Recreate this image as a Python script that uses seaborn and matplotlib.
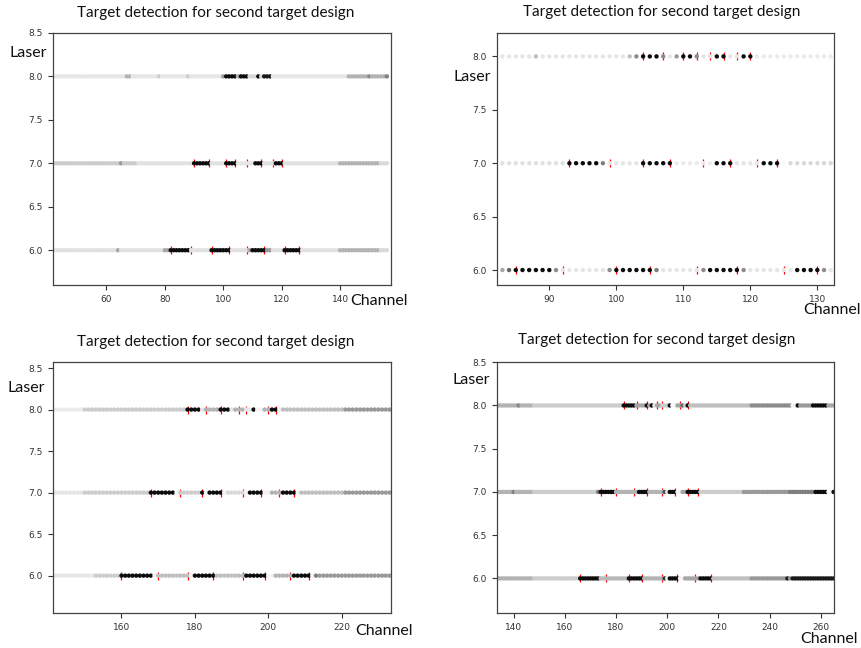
import numpy as np
import pandas as pd
import matplotlib
matplotlib.use("Agg")
import matplotlib.pyplot as plt
import seaborn as sns

# runs of (first channel, last channel, darkness 0..1) per laser row
p1_runs = {
    8: [(42, 66, 0.1), (67, 68, 0.3), (69, 77, 0.1), (78, 78, 0.2), (79, 87, 0.1), (88, 88, 0.2),
        (89, 99, 0.1), (100, 100, 0.4), (101, 104, 0.95), (105, 105, 0.3), (106, 108, 0.95),
        (109, 111, 0.15), (112, 112, 0.95), (113, 113, 0.15), (114, 116, 0.9), (117, 142, 0.1),
        (143, 149, 0.3), (150, 150, 0.45), (151, 155, 0.3), (156, 156, 0.5)],
    7: [(42, 64, 0.2), (65, 65, 0.4), (66, 70, 0.2), (71, 89, 0.12), (90, 95, 0.95), (96, 100, 0.12),
        (101, 104, 0.95), (105, 110, 0.1), (111, 113, 0.95), (114, 117, 0.12), (118, 120, 0.95),
        (121, 139, 0.12), (140, 153, 0.3), (154, 156, 0.15)],
    6: [(42, 63, 0.12), (64, 64, 0.35), (65, 79, 0.12), (80, 81, 0.35), (82, 88, 0.95), (89, 95, 0.12),
        (96, 102, 0.95), (103, 108, 0.12), (109, 109, 0.35), (110, 114, 0.95), (115, 116, 0.4),
        (117, 120, 0.12), (121, 126, 0.95), (127, 139, 0.12), (140, 153, 0.3), (154, 156, 0.15)],
}
p1_red = {8: [], 7: [90, 95, 101, 104, 108, 113, 117, 120], 6: [82, 89, 96, 102, 108, 114, 121, 126]}

p2_runs = {
    8: [(83, 87, 0.1), (88, 88, 0.25), (89, 101, 0.1), (102, 102, 0.25), (103, 103, 0.45),
        (104, 106, 0.95), (107, 107, 0.45), (108, 108, 0.1), (109, 109, 0.4), (110, 111, 0.95),
        (112, 112, 0.45), (113, 114, 0.1), (115, 116, 0.95), (117, 118, 0.1), (119, 120, 0.95),
        (121, 132, 0.08)],
    7: [(83, 92, 0.12), (93, 97, 0.95), (98, 98, 0.5), (99, 103, 0.1), (104, 108, 0.95),
        (109, 114, 0.08), (115, 117, 0.95), (118, 121, 0.1), (122, 124, 0.95), (125, 125, 0.03),
        (126, 132, 0.15)],
    6: [(83, 83, 0.35), (84, 84, 0.6), (85, 90, 0.95), (91, 91, 0.45), (92, 98, 0.1), (99, 99, 0.45),
        (100, 105, 0.95), (106, 106, 0.5), (107, 112, 0.1), (113, 113, 0.45), (114, 118, 0.95),
        (119, 119, 0.45), (120, 126, 0.1), (127, 130, 0.95), (131, 131, 0.45), (132, 132, 0.1)],
}
p2_red = {8: [104, 107, 110, 112, 114, 116, 118, 120], 7: [93, 99, 104, 108, 113, 117, 121, 124],
          6: [85, 92, 100, 105, 112, 118, 125, 130]}

p3_runs = {
    8: [(142, 149, 0.08), (150, 177, 0.2), (178, 181, 0.95), (182, 182, 0.1), (183, 186, 0.3),
        (187, 189, 0.95), (190, 190, 0.1), (191, 193, 0.3), (194, 195, 0.1), (196, 196, 0.95),
        (197, 198, 0.05), (199, 200, 0.3), (201, 202, 0.95), (203, 203, 0.05), (204, 220, 0.25),
        (221, 233, 0.4)],
    7: [(142, 149, 0.1), (150, 167, 0.2), (168, 174, 0.95), (175, 175, 0.05), (176, 181, 0.2),
        (182, 182, 0.95), (183, 183, 0.05), (184, 187, 0.95), (188, 188, 0.05), (189, 193, 0.15),
        (194, 194, 0.05), (195, 198, 0.95), (199, 200, 0.05), (201, 203, 0.3), (204, 207, 0.95),
        (208, 208, 0.05), (209, 220, 0.25), (221, 233, 0.4)],
    6: [(142, 152, 0.1), (153, 159, 0.2), (160, 168, 0.95), (169, 169, 0.05), (170, 178, 0.25),
        (179, 179, 0.05), (180, 185, 0.95), (186, 193, 0.25), (194, 199, 0.95), (200, 201, 0.05),
        (202, 206, 0.3), (207, 211, 0.95), (212, 212, 0.05), (213, 213, 0.5), (214, 233, 0.4)],
}
p3_red = {8: [178, 183, 187, 192, 194, 200, 202], 7: [168, 176, 182, 187, 193, 198, 203, 207],
          6: [160, 170, 178, 185, 193, 199, 206, 211]}

p4_runs = {
    8: [(134, 141, 0.3), (142, 142, 0.5), (143, 147, 0.3), (148, 182, 0.2), (183, 187, 0.95),
        (188, 191, 0.35), (192, 192, 0.95), (193, 193, 0.35), (194, 194, 0.95), (195, 195, 0.1),
        (196, 197, 0.35), (198, 200, 0.2), (201, 201, 0.95), (202, 203, 0.03), (204, 205, 0.35),
        (206, 206, 0.6), (207, 207, 0.2), (208, 208, 0.95), (209, 232, 0.25), (233, 248, 0.45),
        (249, 250, 0.05), (251, 251, 0.95), (252, 256, 0.4), (257, 262, 0.95), (263, 265, 0.35)],
    7: [(134, 139, 0.3), (140, 140, 0.5), (141, 147, 0.3), (148, 172, 0.2), (173, 173, 0.5),
        (174, 179, 0.95), (180, 188, 0.3), (189, 192, 0.95), (193, 198, 0.3), (199, 199, 0.7),
        (200, 200, 0.1), (201, 203, 0.95), (204, 205, 0.05), (206, 207, 0.35), (208, 212, 0.95),
        (213, 229, 0.2), (230, 247, 0.4), (248, 257, 0.5), (258, 262, 0.95), (263, 264, 0.03),
        (265, 265, 0.95)],
    6: [(134, 147, 0.3), (148, 165, 0.2), (166, 173, 0.95), (174, 184, 0.28), (185, 190, 0.95),
        (191, 198, 0.3), (199, 199, 0.8), (200, 200, 0.05), (201, 204, 0.95), (205, 206, 0.05),
        (207, 212, 0.35), (213, 217, 0.95), (218, 232, 0.25), (233, 246, 0.4), (247, 247, 0.9),
        (248, 248, 0.4), (249, 265, 0.9)],
}
p4_red = {8: [183, 188, 192, 196, 198, 205, 208], 7: [174, 180, 187, 192, 198, 203, 208, 212],
          6: [166, 176, 185, 190, 198, 204, 211, 217]}

title = "Target detection for second target design"

panels = [
    # runs, red, axes rect, xlim, ylim, xticks, yticks, title xy, laser xy, channel right-edge xy (pixels)
    (p1_runs, p1_red, [0.0615, 0.5602, 0.392, 0.389], (41.7, 157.4), (5.6, 8.5),
     [60, 80, 100, 120, 140], [6.0, 6.5, 7.0, 7.5, 8.0, 8.5], (216, 13), (10, 53), (408, 301)),
    (p2_runs, p2_red, [0.5766, 0.5602, 0.391, 0.389], (82.2, 132.5), (5.86, 8.22),
     [90, 100, 110, 120, 130], [6.0, 6.5, 7.0, 7.5, 8.0], (662, 12), (454, 77), (861, 310)),
    (p3_runs, p3_red, [0.0615, 0.054, 0.392, 0.387], (141.35, 233.4), (5.55, 8.57),
     [160, 180, 200, 220], [6.0, 6.5, 7.0, 7.5, 8.0, 8.5], (216, 342), (8, 388), (413, 631)),
    (p4_runs, p4_red, [0.5766, 0.054, 0.391, 0.387], (133.5, 265.2), (5.6, 8.5),
     [140, 160, 180, 200, 220, 240, 260], [6.0, 6.5, 7.0, 7.5, 8.0, 8.5], (657, 340), (453, 380), (858, 639)),
]

sns.set_style("ticks")
plt.rcParams["font.family"] = ["DejaVu Sans"]
W, H = 862, 648
fig = plt.figure(figsize=(W / 100, H / 100), dpi=100)
grey = sns.blend_palette(["white", "black"], as_cmap=True)
label_font = ["Lato", "DejaVu Sans"]

for runs, red, rect, xlim, ylim, xt, yt, tpos, lpos, cpos in panels:
    ax = fig.add_axes(rect)
    rows = []
    for laser, segs in runs.items():
        for a, b, lev in segs:
            for ch in range(a, b + 1):
                rows.append((ch, laser, lev))
    df = pd.DataFrame(rows, columns=["channel", "laser", "level"])
    reds = pd.DataFrame([(ch, laser) for laser, chs in red.items() for ch in chs],
                        columns=["channel", "laser"])
    if len(reds):
        sns.scatterplot(data=reds, x="channel", y="laser", marker="|", s=40, color="red",
                        linewidth=0.9, ax=ax, zorder=1)
    sns.scatterplot(data=df, x="channel", y="laser", hue="level", palette=grey, hue_norm=(0, 1),
                    s=10, linewidth=0, legend=False, ax=ax, zorder=2)
    ax.set_xlim(*xlim)
    ax.set_ylim(*ylim)
    ax.set_xticks(xt)
    ax.set_yticks(yt)
    ax.set_yticklabels([f"{v:.1f}" for v in yt])
    ax.set_xlabel("")
    ax.set_ylabel("")
    ax.tick_params(labelsize=6.5, colors="#333333", length=3.5, width=0.8, pad=4)
    for sp in ax.spines.values():
        sp.set_visible(True)
        sp.set_color("#444444")
        sp.set_linewidth(0.9)
    fig.text(tpos[0] / W, 1 - tpos[1] / H, title, ha="center", va="center", fontsize=11,
             family=label_font, color="#111111")
    fig.text(lpos[0] / W, 1 - lpos[1] / H, "Laser", ha="left", va="center", fontsize=11.5,
             family=label_font, color="#111111")
    fig.text(cpos[0] / W, 1 - cpos[1] / H, "Channel", ha="right", va="center", fontsize=11.5,
             family=label_font, color="#111111")

fig.savefig("out.png", dpi=100)
